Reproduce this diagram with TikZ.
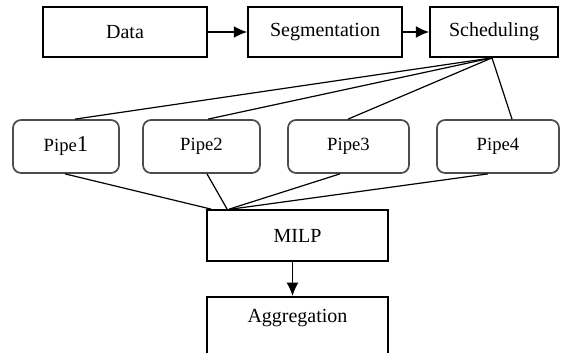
\documentclass[tikz,border=0pt]{standalone}
\usepackage{fontspec}
\setmainfont{Liberation Serif}
\usetikzlibrary{arrows.meta,calc}
\begin{document}
\begin{tikzpicture}[x=0.75pt,y=-0.75pt,
  box/.style={draw,line width=1.3pt,inner sep=0pt,font=\fontsize{15}{18}\selectfont},
  pipebox/.style={draw=black!70,line width=1.3pt,rounded corners=6pt,inner sep=0pt,
    minimum height=39.75pt,font=\fontsize{14}{17}\selectfont},
  conn/.style={line width=0.9pt},
  arr/.style={line width=1.1pt,-{Latex[length=10pt,width=9pt]}}]
\useasboundingbox (0,0) rectangle (564,353);
% top row
\node[box,minimum width=123pt,minimum height=37.5pt] (data) at (125,32) {Data};
\node[box,minimum width=115.5pt,minimum height=37.5pt] (seg) at (325,32) {Segmentation};
\node[box,minimum width=96pt,minimum height=37.5pt] (sched) at (494,32) {Scheduling};
\draw[arr] (data) -- (seg);
\draw[arr] (seg) -- (sched);
% pipes
\node[pipebox,minimum width=79.5pt] (p1) at (66,146.5) {Pipe{\fontsize{17}{17}\selectfont 1}};
\node[pipebox,minimum width=87.75pt] (p2) at (201.5,146.5) {\raisebox{3pt}{Pipe2}};
\node[pipebox,minimum width=90.75pt] (p3) at (348.5,146.5) {\raisebox{3pt}{Pipe3}};
\node[pipebox,minimum width=91.5pt] (p4) at (498,146.5) {\raisebox{3pt}{Pipe4}};
% MILP and Aggregation
\node[box,minimum width=135.75pt,minimum height=38.25pt] (milp) at (297.5,235.5) {MILP};
\node[box,minimum width=135.75pt,text height=19.5pt,text depth=36pt,anchor=north] (agg) at (297.5,296) {Aggregation};
\draw[arr] ($(milp.south)+(-5,0)$) -- ($(agg.north)+(-5,0)$);
% fan out from Scheduling
\coordinate (fan) at ($(sched.south)+(-2,0)$);
\draw[conn] (fan) -- ($(p1.north)+(9,0)$);
\draw[conn] (fan) -- ($(p2.north)+(6.5,0)$);
\draw[conn] (fan) -- ($(p3.north)+(-0.5,0)$);
\draw[conn] (fan) -- ($(p4.north)+(14,0)$);
% fan in to MILP
\draw[conn] ($(p1.south)+(-1,0)$) -- ($(milp.north west)+(5,0)$);
\draw[conn] ($(p2.south)+(5.5,0)$) -- ($(milp.north west)+(21,0)$);
\draw[conn] ($(p3.south)+(-8.5,0)$) -- ($(milp.north west)+(23,0)$);
\draw[conn] ($(p4.south)+(-10,0)$) -- ($(milp.north west)+(25,0)$);
\end{tikzpicture}
\end{document}
